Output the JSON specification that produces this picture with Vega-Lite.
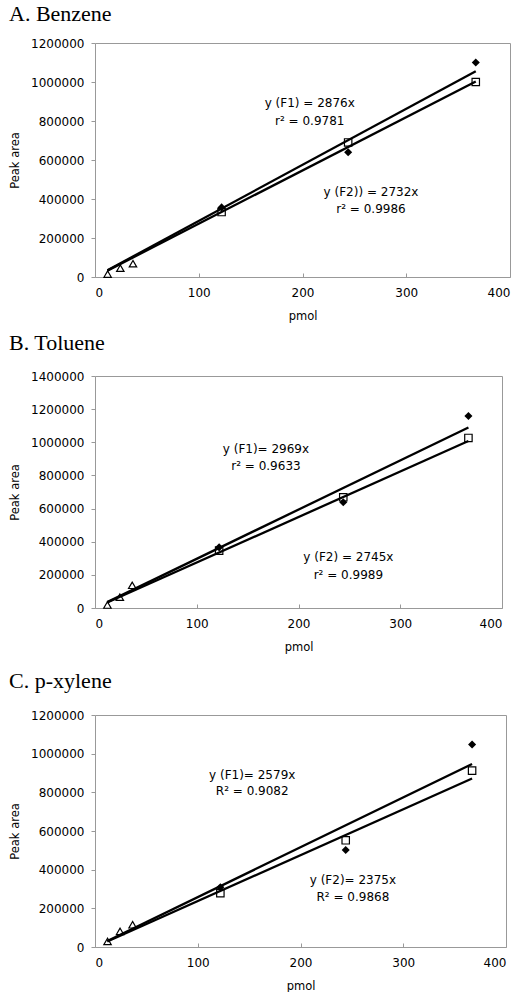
{
  "$schema": "https://vega.github.io/schema/vega-lite/v6.json",
  "padding": {"left": 8, "top": 2, "right": 0, "bottom": 0},
  "background": "white",
  "config": {
    "font": "DejaVu Sans",
    "view": {"stroke": "#999999", "strokeWidth": 1},
    "axis": {"grid": false, "domain": false, "labelFont": "DejaVu Sans", "labelFontSize": 12, "labelColor": "#000000", "tickColor": "#999999", "titleFont": "DejaVu Sans", "titleFontSize": 11.5, "titleFontWeight": "normal", "titleColor": "#000000"},
    "axisX": {"tickSize": -4, "labelPadding": 14, "titleY": 39, "titleBaseline": "middle"},
    "axisY": {"tickSize": 4, "labelPadding": 7, "format": "d", "titleX": -80, "titleBaseline": "middle", "titleAlign": "center", "titleAngle": 270},
    "title": {"font": "Liberation Serif", "fontSize": 22, "fontWeight": "normal", "anchor": "start", "frame": "bounds", "color": "#000000"},
    "text": {"font": "DejaVu Sans", "fontSize": 12}
  },
  "datasets": {
    "ptsA": [
      {"x": 12.2, "y": 15000, "s": "tri"}, {"x": 24.4, "y": 45000, "s": "tri"}, {"x": 36.6, "y": 68000, "s": "tri"},
      {"x": 122, "y": 333000, "s": "sq"}, {"x": 244, "y": 690000, "s": "sq"}, {"x": 367, "y": 1000000, "s": "sq"},
      {"x": 122, "y": 357000, "s": "dia"}, {"x": 244, "y": 640000, "s": "dia"}, {"x": 367, "y": 1100000, "s": "dia"}
    ],
    "linesA": [
      {"x": 12, "y": 34512, "f": "F1"}, {"x": 367, "y": 1055492, "f": "F1"},
      {"x": 12, "y": 32784, "f": "F2"}, {"x": 367, "y": 1002644, "f": "F2"}
    ],
    "textA": [
      {"x": 207, "y": 892000, "t": "y  (F1) = 2876x"}, {"x": 207, "y": 800000, "t": "r² = 0.9781"},
      {"x": 266, "y": 434000, "t": "y  (F2)) = 2732x"}, {"x": 266, "y": 347000, "t": "r² = 0.9986"}
    ],
    "ptsB": [
      {"x": 12.2, "y": 18000, "s": "tri"}, {"x": 24.4, "y": 65000, "s": "tri"}, {"x": 36.6, "y": 137000, "s": "tri"},
      {"x": 122, "y": 346000, "s": "sq"}, {"x": 244, "y": 668000, "s": "sq"}, {"x": 367, "y": 1026000, "s": "sq"},
      {"x": 122, "y": 366000, "s": "dia"}, {"x": 244, "y": 638000, "s": "dia"}, {"x": 367, "y": 1159000, "s": "dia"}
    ],
    "linesB": [
      {"x": 12, "y": 35628, "f": "F1"}, {"x": 367, "y": 1089623, "f": "F1"},
      {"x": 12, "y": 32940, "f": "F2"}, {"x": 367, "y": 1007415, "f": "F2"}
    ],
    "textB": [
      {"x": 168, "y": 958000, "t": "y  (F1)= 2969x"}, {"x": 168, "y": 857000, "t": "r² = 0.9633"},
      {"x": 249, "y": 306000, "t": "y (F2) = 2745x"}, {"x": 249, "y": 199000, "t": "r² = 0.9989"}
    ],
    "ptsC": [
      {"x": 12.2, "y": 29000, "s": "tri"}, {"x": 24.4, "y": 81000, "s": "tri"}, {"x": 36.6, "y": 115000, "s": "tri"},
      {"x": 122, "y": 278000, "s": "sq"}, {"x": 244, "y": 552000, "s": "sq"}, {"x": 367, "y": 912000, "s": "sq"},
      {"x": 122, "y": 309000, "s": "dia"}, {"x": 244, "y": 502000, "s": "dia"}, {"x": 367, "y": 1047000, "s": "dia"}
    ],
    "linesC": [
      {"x": 12, "y": 30948, "f": "F1"}, {"x": 367, "y": 946493, "f": "F1"},
      {"x": 12, "y": 28500, "f": "F2"}, {"x": 367, "y": 871625, "f": "F2"}
    ],
    "textC": [
      {"x": 153, "y": 891000, "t": "y  (F1)= 2579x"}, {"x": 153, "y": 805000, "t": "R² = 0.9082"},
      {"x": 251, "y": 348000, "t": "y  (F2)= 2375x"}, {"x": 251, "y": 257000, "t": "R² = 0.9868"}
    ]
  },
  "spacing": 9,
  "vconcat": [
    {
      "title": {"text": "A. Benzene", "offset": 11},
      "width": 415, "height": 234,
      "encoding": {
        "x": {"field": "x", "type": "quantitative", "scale": {"domain": [0, 400]}, "axis": {"title": "pmol", "values": [0, 100, 200, 300, 400]}},
        "y": {"field": "y", "type": "quantitative", "scale": {"domain": [0, 1200000]}, "axis": {"title": "Peak area", "values": [0, 200000, 400000, 600000, 800000, 1000000, 1200000], "titleY": 117}}
      },
      "layer": [
        {"data": {"name": "linesA"}, "mark": {"type": "line", "color": "#000000", "strokeWidth": 2.3}, "encoding": {"detail": {"field": "f"}}},
        {"data": {"name": "ptsA"}, "transform": [{"filter": "datum.s != 'dia'"}], "mark": {"type": "point", "filled": false, "color": "#000000", "strokeWidth": 1.2, "size": 55, "opacity": 1}, "encoding": {"shape": {"field": "s", "type": "nominal", "scale": {"domain": ["tri", "sq"], "range": ["triangle-up", "square"]}, "legend": null}}},
        {"data": {"name": "ptsA"}, "transform": [{"filter": "datum.s == 'dia'"}], "mark": {"type": "point", "shape": "diamond", "filled": true, "color": "#000000", "size": 65, "opacity": 1}},
        {"data": {"name": "textA"}, "mark": {"type": "text", "align": "center", "baseline": "middle", "color": "#000000"}, "encoding": {"text": {"field": "t"}}}
      ]
    },
    {
      "spacing": 16,
      "vconcat": [
        {
          "title": {"text": "B. Toluene", "offset": 15},
          "width": 407, "height": 232,
          "encoding": {
            "x": {"field": "x", "type": "quantitative", "scale": {"domain": [0, 400]}, "axis": {"title": "pmol", "values": [0, 100, 200, 300, 400]}},
            "y": {"field": "y", "type": "quantitative", "scale": {"domain": [0, 1400000]}, "axis": {"title": "Peak area", "values": [0, 200000, 400000, 600000, 800000, 1000000, 1200000, 1400000], "titleY": 116}}
          },
          "layer": [
            {"data": {"name": "linesB"}, "mark": {"type": "line", "color": "#000000", "strokeWidth": 2.3}, "encoding": {"detail": {"field": "f"}}},
            {"data": {"name": "ptsB"}, "transform": [{"filter": "datum.s != 'dia'"}], "mark": {"type": "point", "filled": false, "color": "#000000", "strokeWidth": 1.2, "size": 55, "opacity": 1}, "encoding": {"shape": {"field": "s", "type": "nominal", "scale": {"domain": ["tri", "sq"], "range": ["triangle-up", "square"]}, "legend": null}}},
            {"data": {"name": "ptsB"}, "transform": [{"filter": "datum.s == 'dia'"}], "mark": {"type": "point", "shape": "diamond", "filled": true, "color": "#000000", "size": 65, "opacity": 1}},
            {"data": {"name": "textB"}, "mark": {"type": "text", "align": "center", "baseline": "middle", "color": "#000000"}, "encoding": {"text": {"field": "t"}}}
          ]
        },
        {
          "title": {"text": "C. p-xylene", "offset": 16},
          "width": 411, "height": 232,
          "encoding": {
            "x": {"field": "x", "type": "quantitative", "scale": {"domain": [0, 400]}, "axis": {"title": "pmol", "values": [0, 100, 200, 300, 400]}},
            "y": {"field": "y", "type": "quantitative", "scale": {"domain": [0, 1200000]}, "axis": {"title": "Peak area", "values": [0, 200000, 400000, 600000, 800000, 1000000, 1200000], "titleY": 116}}
          },
          "layer": [
            {"data": {"name": "linesC"}, "mark": {"type": "line", "color": "#000000", "strokeWidth": 2.3}, "encoding": {"detail": {"field": "f"}}},
            {"data": {"name": "ptsC"}, "transform": [{"filter": "datum.s != 'dia'"}], "mark": {"type": "point", "filled": false, "color": "#000000", "strokeWidth": 1.2, "size": 55, "opacity": 1}, "encoding": {"shape": {"field": "s", "type": "nominal", "scale": {"domain": ["tri", "sq"], "range": ["triangle-up", "square"]}, "legend": null}}},
            {"data": {"name": "ptsC"}, "transform": [{"filter": "datum.s == 'dia'"}], "mark": {"type": "point", "shape": "diamond", "filled": true, "color": "#000000", "size": 65, "opacity": 1}},
            {"data": {"name": "textC"}, "mark": {"type": "text", "align": "center", "baseline": "middle", "color": "#000000"}, "encoding": {"text": {"field": "t"}}}
          ]
        }
      ]
    }
  ]
}
